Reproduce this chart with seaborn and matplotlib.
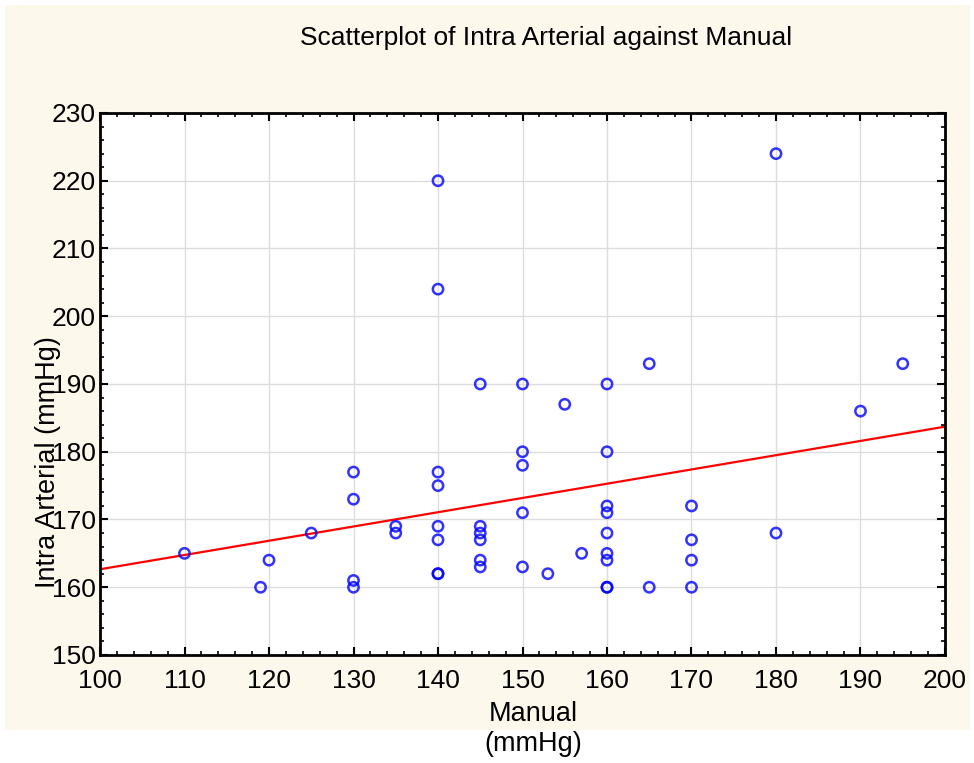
import numpy as np
import pandas as pd
import seaborn as sns
import matplotlib
matplotlib.use("Agg")
import matplotlib.pyplot as plt
from matplotlib.patches import Rectangle
from matplotlib.ticker import MultipleLocator

manual = [110, 119, 120, 125,
          130, 130, 130, 130,
          135, 135,
          140, 140, 140, 140, 140, 140, 140, 140,
          145, 145, 145, 145, 145, 145,
          150, 150, 150, 150, 150,
          153, 155, 157,
          160, 160, 160, 160, 160, 160, 160, 160, 160,
          165, 165,
          170, 170, 170, 170,
          180, 180, 190, 195]
intra_arterial = [165, 160, 164, 168,
                  177, 173, 161, 160,
                  169, 168,
                  220, 204, 177, 175, 169, 167, 162, 162,
                  190, 169, 168, 167, 164, 163,
                  190, 180, 178, 171, 163,
                  162, 187, 165,
                  190, 180, 172, 171, 168, 165, 164, 160, 160,
                  193, 160,
                  172, 167, 164, 160,
                  224, 168, 186, 193]

title = "Scatterplot of Intra Arterial against Manual"
x_label = "Manual"
x_unit = "(mmHg)"
y_label = "Intra Arterial (mmHg)"

df = pd.DataFrame({"Manual": manual, "Intra Arterial": intra_arterial})

sns.set_style("white")
plt.rcParams['font.family'] = ['Liberation Sans', 'DejaVu Sans']
plt.rcParams['text.color'] = 'black'
plt.rcParams['xtick.color'] = 'black'
plt.rcParams['ytick.color'] = 'black'
plt.rcParams['xtick.labelcolor'] = 'black'
plt.rcParams['ytick.labelcolor'] = 'black'

fig = plt.figure(figsize=(9.74, 7.63), dpi=100)
fig.patch.set_facecolor("white")
fig.patches.append(Rectangle((5 / 974, 1 - 730 / 763), 965 / 974, 725 / 763,
                             transform=fig.transFigure, facecolor="#fdf8ec",
                             edgecolor="none", zorder=-5))

ax = fig.add_axes([100 / 974, 1 - 655 / 763, 845 / 974, 542 / 763])
ax.set_zorder(1)
ax.set_facecolor("white")
ax.set_xlim(100, 200)
ax.set_ylim(150, 230)

sns.regplot(data=df, x="Manual", y="Intra Arterial", ax=ax, ci=None,
            truncate=False,
            scatter_kws=dict(s=55, facecolors="none", edgecolors="#0000ff",
                             linewidths=1.8, zorder=3),
            line_kws=dict(color="#ff0000", linewidth=1.6, zorder=2))
ax.set_xlim(100, 200)
ax.set_ylim(150, 230)

ax.xaxis.set_major_locator(MultipleLocator(10))
ax.yaxis.set_major_locator(MultipleLocator(10))
ax.xaxis.set_minor_locator(MultipleLocator(2))
ax.yaxis.set_minor_locator(MultipleLocator(2))
ax.grid(True, which="major", color="#dcdcdc", linewidth=1.0)
ax.set_axisbelow(True)
ax.tick_params(which="both", direction="in", top=True, right=True,
               bottom=True, left=True, color="black")
ax.tick_params(which="major", length=6, width=1.5, labelsize=19)
ax.tick_params(axis="x", which="major", pad=10)
ax.tick_params(axis="y", which="major", pad=3)
ax.tick_params(which="minor", length=3, width=1.2)
for lbl in ax.get_yticklabels():
    lbl.set_verticalalignment("center_baseline")
for s in ax.spines.values():
    s.set_color("black")
    s.set_linewidth(2)
ax.set_xlabel("")
ax.set_ylabel("")

fig.text(546 / 974, 1 - 38 / 763, title, ha="center", va="center",
         fontsize=19, color="black")
fig.text(533 / 974, 1 - 714 / 763, x_label, ha="center", va="center",
         fontsize=19.5, color="black")
fig.text(533 / 974, 1 - 744 / 763, x_unit, ha="center", va="center",
         fontsize=19.5, color="black")
fig.text(48 / 974, 1 - 462 / 763, y_label, ha="center", va="center",
         rotation=90, fontsize=19.5, color="black", zorder=5)

fig.savefig("out.png", dpi=100, facecolor=fig.get_facecolor())
